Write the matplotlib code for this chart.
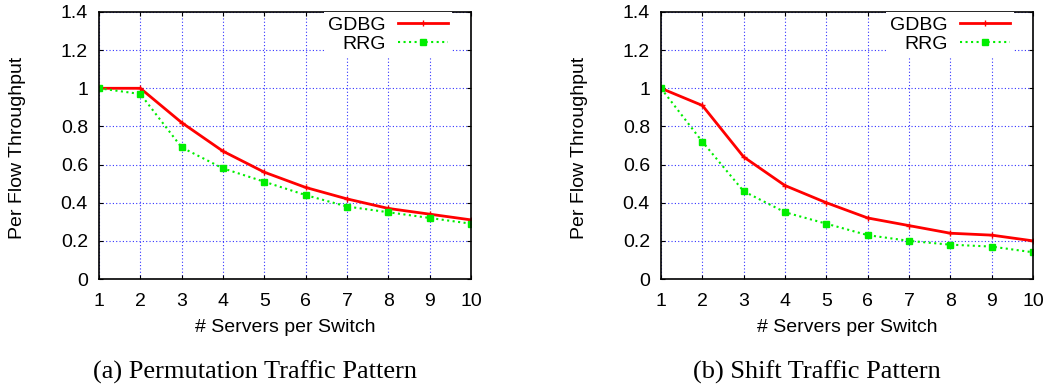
import matplotlib.pyplot as plt
import numpy as np

x = np.arange(1, 11)

# (a) permutation traffic
perm_gdbg = [1.0, 1.0, 0.82, 0.67, 0.56, 0.48, 0.42, 0.37, 0.34, 0.31]
perm_rrg = [1.0, 0.97, 0.69, 0.58, 0.51, 0.44, 0.38, 0.35, 0.32, 0.29]

# (b) shift traffic
shift_gdbg = [1.0, 0.91, 0.64, 0.49, 0.40, 0.32, 0.28, 0.24, 0.23, 0.20]
shift_rrg = [1.0, 0.72, 0.46, 0.35, 0.29, 0.23, 0.20, 0.18, 0.17, 0.14]

captions = ["(a) Permutation Traffic Pattern", "(b) Shift Traffic Pattern"]

plt.rcParams['font.family'] = ['Liberation Sans', 'DejaVu Sans']

fig = plt.figure(figsize=(10.48, 3.88), dpi=100)
W, H = 1048, 388
lefts = [99, 661]
w = 372
top, bot = 12, 279

data = [(perm_gdbg, perm_rrg), (shift_gdbg, shift_rrg)]

for left, (g, r), cap in zip(lefts, data, captions):
    ax = fig.add_axes([left / W, 1 - bot / H, w / W, (bot - top) / H])
    ax.plot(x, g, color='#ff0000', lw=2, marker='+', ms=4, mew=1, label='GDBG')
    ax.plot(x, r, color='#00ee00', lw=1.5, ls=':', marker='s', ms=4, label='RRG')
    ax.set_xlim(1, 10)
    ax.set_ylim(0, 1.4)
    ax.set_xticks(x)
    ax.set_yticks(np.arange(0, 1.41, 0.2))
    ax.set_yticklabels(['0', '0.2', '0.4', '0.6', '0.8', '1', '1.2', '1.4'])
    ax.grid(True, color='#0000ff', ls=(0, (1, 2)), lw=0.8, alpha=0.8)
    ax.tick_params(direction='in', top=True, right=True, labelsize=14, length=3)
    ax.tick_params(axis='y', pad=8)
    ax.tick_params(axis='x', pad=10)
    for s in ax.spines.values():
        s.set_linewidth(1.2)
    leg = ax.legend(loc='upper right', bbox_to_anchor=(0.949, 1.0),
                    frameon=True, fancybox=False, framealpha=1,
                    facecolor='white', edgecolor='none',
                    markerfirst=False, fontsize=14, handlelength=2.6,
                    handletextpad=0.6, borderpad=0.2, borderaxespad=0,
                    labelspacing=0.1)
    cx = (left + w / 2) / W
    fig.text(cx, 1 - 328 / H, '# Servers per Switch', ha='center', va='center',
             fontsize=14)
    fig.text((left - 81) / W, 1 - 148 / H, 'Per Flow Throughput', rotation=90,
             ha='center', va='center', fontsize=14)
    fig.text((left + 156) / W, 1 - 372 / H, cap, ha='center', va='center',
             fontsize=19, family='Liberation Serif')

fig.savefig('out.png', dpi=100)
